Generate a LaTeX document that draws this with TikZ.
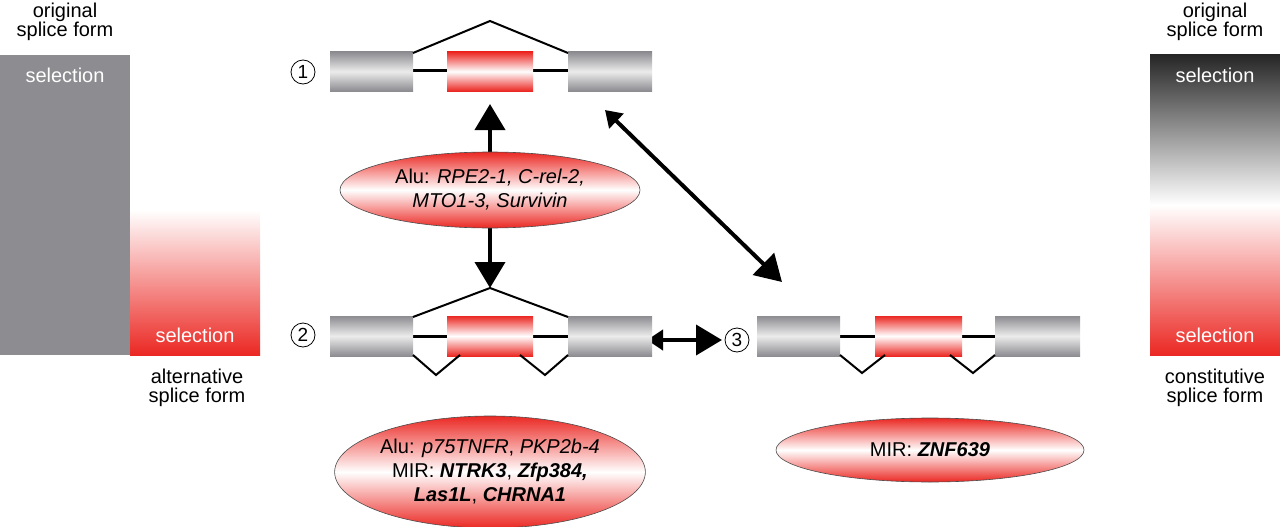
\documentclass[tikz,border=0pt]{standalone}
\usepackage{fontspec}
\setmainfont{Liberation Sans}
\usetikzlibrary{arrows.meta,shapes.geometric}
\definecolor{ered}{RGB}{235,40,35}
\definecolor{egray}{RGB}{140,140,145}
\begin{document}
\begin{tikzpicture}[x=1pt,y=-1pt,
  lbl/.style={font=\fontsize{20}{22}\selectfont,align=center},
  wlbl/.style={lbl,text=white},
  gex/.style={top color=egray,bottom color=egray,middle color=gray!15,draw=none},
  rex/.style={top color=ered,bottom color=ered,middle color=white,draw=none},
  intr/.style={line width=3pt},
  spl/.style={line width=2pt},
  num/.style={circle,draw,line width=0.8pt,inner sep=1pt,minimum size=24pt,font=\fontsize{19}{20}\selectfont},
  ell/.style={ellipse,draw=black!70,line width=0.6pt,top color=ered,bottom color=ered,middle color=white,align=center,font=\fontsize{20}{24}\selectfont,inner sep=0pt},
  bigs/.style={line width=4pt,{Triangle[length=16pt,width=20pt]}-{Triangle[length=26pt,width=30pt]}},
]
\useasboundingbox (0,0) rectangle (1280,527);
% left bar
\fill[egray] (0,55) rectangle (130,355);
\shade[top color=white,bottom color=ered] (130,210) rectangle (260,355);
\node[lbl] (lo) at (65,22) {original\\[-3pt]splice form};
\node[wlbl] (ls1) at (65,75) {selection};
\node[wlbl] (ls2) at (195,335) {selection};
\node[lbl] (la) at (197,388) {alternative\\[-3pt]splice form};
% right bar
\shade[top color=black!85,bottom color=white] (1150,55) rectangle (1280,205);
\shade[top color=white,bottom color=ered] (1150,205) rectangle (1280,355);
\node[lbl] (ro) at (1215,22) {original\\[-3pt]splice form};
\node[wlbl] (rs1) at (1215,75) {selection};
\node[wlbl] (rs2) at (1215,335) {selection};
\node[lbl] (rc) at (1215,388) {constitutive\\[-3pt]splice form};
% arrows (behind ellipses)
\coordinate (a1) at (490,104); \coordinate (a2) at (490,288);
\draw[line width=4pt,{Triangle[length=26pt,width=30pt]}-{Triangle[length=26pt,width=30pt]}] (a2) -- (a1);
\coordinate (d1) at (605,110); \coordinate (d2) at (782,282);
\draw[bigs] (d1) -- (d2);
\coordinate (h1) at (647,340); \coordinate (h2) at (722,340);
\draw[bigs] (h1) -- (h2);
% row 1
\node[num] (n1) at (303,72) {1};
\draw[intr] (413,71) -- (568,71);
\fill[gex] (330,52) rectangle (413,91);
\fill[rex] (447,52) rectangle (533,91);
\fill[gex] (568,52) rectangle (652,91);
\draw[spl] (413,53) -- (490,21) -- (568,53);
% row 2
\node[num] (n2) at (303,335) {2};
\draw[intr] (413,336) -- (568,336);
\fill[gex] (330,316) rectangle (413,356);
\fill[rex] (447,316) rectangle (533,356);
\fill[gex] (568,316) rectangle (652,356);
\draw[spl] (413,317) -- (490,288) -- (568,317);
\draw[spl] (413,355) -- (436,375) -- (460,355);
\draw[spl] (520,355) -- (545,375) -- (568,355);
% row 3
\node[num] (n3) at (737,340) {3};
\draw[intr] (840,336) -- (995,336);
\fill[gex] (757,316) rectangle (840,356);
\fill[rex] (875,316) rectangle (962,356);
\fill[gex] (995,316) rectangle (1080,356);
\draw[spl] (840,355) -- (862,373) -- (885,355);
\draw[spl] (950,355) -- (973,373) -- (995,355);
% ellipses
\node[ell,minimum width=300pt,minimum height=76pt] (e1) at (490,190) {Alu: \textit{RPE2-1, C-rel-2,}\\\textit{MTO1-3, Survivin}};
\node[ell,minimum width=292pt,minimum height=112pt] (e2) at (490,472) {Alu: \textit{p75TNFR}, \textit{PKP2b-4}\\MIR: \textbf{\textit{NTRK3}}, \textbf{\textit{Zfp384,}}\\\textbf{\textit{Las1L}}, \textbf{\textit{CHRNA1}}};
\node[ell,minimum width=308pt,minimum height=64pt] (e3) at (930,450) {MIR: \textbf{\textit{ZNF639}}};
\end{tikzpicture}
\end{document}
